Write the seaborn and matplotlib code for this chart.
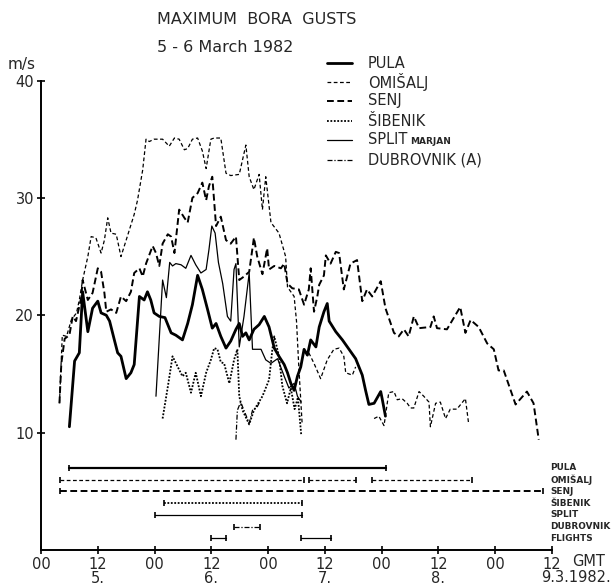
import matplotlib
matplotlib.use("Agg")
import matplotlib.pyplot as plt
import seaborn as sns
from matplotlib.lines import Line2D

sns.set_style("ticks")
plt.rcParams["font.family"] = ["DejaVu Sans"]

# ---- hourly maximum gusts, hours from 00 GMT 5 March 1982, m/s ----
pula_h = [6.0, 7.1, 8.1, 8.8, 9.9, 10.9, 12.0, 12.7, 13.8, 14.5, 15.5, 16.2, 16.9, 18.0, 19.0, 19.7,
          20.8, 21.8, 22.5, 23.2, 23.9, 25.0, 26.2, 27.5, 28.5, 29.9, 31.0, 32.0, 33.1, 34.1, 35.2,
          36.2, 37.0, 38.0, 39.1, 40.1, 41.2, 41.9, 42.6, 43.3, 44.0, 45.0, 46.1, 47.2, 48.2, 49.3,
          50.3, 51.4, 52.1, 52.8, 53.5, 54.2, 54.9, 55.6, 56.3, 57.0, 58.1, 58.8, 59.8, 60.5, 60.9,
          62.3, 63.7, 65.1, 66.5, 67.9, 68.6, 69.3, 70.4, 71.8, 72.1, 72.8]
pula_v = [10.5, 16.1, 16.8, 22.0, 18.6, 20.6, 21.2, 20.2, 20.0, 19.5, 17.9, 16.8, 16.5, 14.6, 15.1, 15.8,
          21.6, 21.3, 22.0, 21.3, 20.2, 19.9, 19.8, 18.5, 18.3, 17.9, 19.3, 20.9, 23.4, 22.2, 20.5,
          18.9, 19.3, 18.2, 17.2, 17.8, 18.8, 19.3, 18.2, 18.5, 17.9, 18.8, 19.2, 19.9, 19.0, 17.2,
          16.5, 15.8, 15.1, 14.2, 13.6, 14.8, 15.6, 17.1, 16.6, 17.9, 17.3, 19.0, 20.3, 21.0, 19.5,
          18.6, 17.9, 17.1, 16.3, 14.9, 13.6, 12.4, 12.5, 13.5, 12.9, 11.4]

omisalj_h1 = [3.9, 4.5, 5.4, 6.4, 7.5, 8.1, 8.8, 9.9, 10.6, 11.6, 12.7, 13.4, 14.1, 14.8, 15.9, 16.9,
              18.0, 19.7, 20.4, 21.5, 22.2, 22.9, 23.9, 25.7, 27.1, 28.2, 29.2, 30.3, 31.0, 32.0, 33.1,
              34.1, 34.9, 35.9, 36.6, 38.0, 39.1, 40.1, 41.9, 43.3, 44.0, 45.0, 46.1, 46.8, 47.5, 48.6,
              50.3, 51.7, 52.1, 53.5, 54.0, 54.5, 55.2]
omisalj_v1 = [12.5, 18.3, 18.2, 19.6, 20.2, 21.3, 23.0, 25.0, 26.7, 26.6, 25.3, 26.4, 28.3, 27.0, 26.9, 25.0,
              26.4, 28.6, 29.8, 32.4, 35.0, 34.8, 35.0, 35.0, 34.4, 35.1, 35.0, 34.1, 34.2, 35.0, 35.1,
              34.0, 32.5, 35.0, 35.1, 35.1, 32.1, 31.9, 32.0, 34.5, 31.8, 30.7, 32.0, 29.0, 31.8, 27.9,
              27.0, 25.0, 22.4, 21.6, 19.5, 15.5, 10.7]
omisalj_h2 = [56.6, 57.7, 59.1, 60.5, 61.9, 63.0, 64.0, 64.4, 65.8, 66.5]
omisalj_v2 = [16.8, 15.9, 14.6, 16.2, 17.1, 17.2, 16.5, 15.1, 14.9, 15.6]
omisalj_h3 = [70.4, 71.4, 72.5, 73.5, 74.6, 75.3, 76.3, 77.4, 78.1, 78.8, 79.9, 80.9, 82.0, 82.3, 83.4,
              84.4, 85.5, 86.5, 87.9, 89.7, 90.4]
omisalj_v3 = [11.2, 11.4, 10.6, 13.4, 13.5, 12.8, 12.9, 12.5, 12.1, 12.1, 13.5, 13.1, 12.6, 10.5, 12.5,
              12.6, 11.2, 12.0, 12.0, 12.9, 10.7]

senj_h = [3.9, 4.3, 5.0, 6.0, 6.7, 7.4, 8.5, 8.8, 9.9, 10.9, 12.0, 12.7, 13.4, 13.8, 14.8, 15.9, 16.9,
          18.0, 19.0, 19.7, 20.8, 21.5, 22.2, 23.6, 24.3, 25.0, 25.7, 26.8, 27.5, 28.2, 29.2, 30.3,
          31.0, 32.0, 33.1, 34.1, 34.9, 35.5, 36.2, 37.0, 38.0, 39.1, 40.1, 41.2, 41.9, 42.9, 44.0,
          45.0, 45.7, 46.8, 47.8, 48.2, 49.3, 50.7, 51.4, 52.1, 53.1, 54.5, 55.6, 56.6, 57.0, 57.7,
          58.4, 58.8, 59.8, 60.2, 61.2, 62.3, 63.0, 64.0, 65.4, 66.8, 67.9, 68.9, 70.0, 71.8, 72.8,
          74.6, 75.6, 76.7, 77.7, 78.8, 79.9, 82.3, 83.0, 83.7, 85.8, 88.6, 89.7, 90.8, 92.5, 94.3,
          95.7, 96.7, 97.8, 100.3, 102.7, 104.1, 105.2]
senj_v = [12.5, 15.9, 18.0, 18.3, 19.9, 19.5, 21.5, 23.0, 21.3, 21.9, 24.0, 23.7, 21.9, 20.3, 20.5, 20.2, 21.6,
          21.2, 22.0, 23.6, 24.0, 23.3, 24.4, 25.9, 25.3, 24.2, 26.1, 26.9, 26.7, 25.3, 29.0, 28.3,
          27.9, 30.0, 30.4, 31.3, 29.8, 31.0, 31.8, 27.6, 28.4, 26.4, 26.1, 26.7, 23.0, 23.3, 23.7,
          26.6, 25.0, 23.5, 25.7, 23.9, 24.2, 24.0, 24.4, 22.7, 22.3, 22.2, 20.9, 22.2, 24.0, 20.3,
          21.6, 22.6, 23.4, 25.1, 24.4, 25.4, 25.3, 22.2, 24.4, 24.7, 21.2, 22.2, 21.6, 22.9, 20.6,
          18.5, 18.2, 18.8, 18.2, 19.9, 18.9, 19.0, 19.9, 18.9, 18.8, 20.7, 18.5, 19.6, 19.0, 17.6,
          17.1, 15.3, 15.3, 12.4, 13.5, 12.5, 9.4]

sibenik_h = [25.7, 26.8, 27.8, 28.9, 29.9, 30.6, 31.7, 32.7, 33.8, 34.9, 35.9, 36.6, 37.3, 38.0, 38.7,
             39.8, 40.8, 41.5, 41.9, 42.6, 44.0, 45.0, 46.8, 48.2, 48.9, 49.3, 50.3, 51.0, 52.0, 52.8,
             53.6, 54.3, 55.0]
sibenik_v = [11.2, 13.9, 16.5, 15.6, 14.8, 15.1, 13.4, 15.1, 13.1, 15.1, 16.2, 17.2, 17.1, 16.0, 15.9,
             14.2, 16.2, 17.1, 13.1, 11.9, 10.7, 11.9, 13.1, 14.5, 17.1, 18.2, 16.5, 14.0, 12.5, 13.8,
             12.0, 13.0, 9.8]

split_h = [24.3, 25.7, 26.5, 27.2, 27.8, 28.5, 29.6, 30.6, 31.7, 32.7, 33.8, 34.9, 35.5, 36.1, 36.8,
           37.5, 38.4, 39.4, 40.1, 40.8, 41.2, 41.9, 42.9, 44.0, 44.7, 46.5, 47.5, 48.6, 50.0, 51.4,
           52.4, 53.5, 54.2, 55.0]
split_v = [13.1, 23.0, 21.5, 24.5, 24.2, 24.4, 24.3, 24.0, 25.1, 24.3, 23.6, 23.9, 25.6, 27.6, 27.0,
           24.5, 22.7, 19.9, 19.5, 23.9, 24.4, 17.3, 19.9, 23.6, 17.1, 17.1, 16.2, 15.9, 16.3, 14.8,
           13.8, 14.2, 13.1, 12.6]

dubrovnik_h = [41.2, 41.5, 42.2, 42.9, 44.0, 44.7, 45.7, 46.2]
dubrovnik_v = [9.4, 11.9, 12.6, 11.9, 10.8, 11.9, 12.2, 12.6]

# ---- data availability periods (hours) ----
station_names = ["PULA", "OMIŠALJ", "SENJ", "ŠIBENIK", "SPLIT", "DUBROVNIK", "FLIGHTS"]
station_rows = [7, 6, 5, 4, 3, 2, 1]
periods = [
    [(6, 73)],
    [(4, 55.6), (56.6, 66.6), (70, 91)],
    [(4, 106)],
    [(26, 55.2)],
    [(24, 55.2)],
    [(40.8, 46.2)],
    [(36, 39), (55, 61.2)],
]

x_ticks = list(range(0, 109, 12))
x_tick_labels = ["00", "12", "00", "12", "00", "12", "00", "12", "00", "12"]
day_positions = [12, 36, 60, 84]
day_labels = ["5.", "6.", "7.", "8."]
y_ticks = [10, 20, 30, 40]

styles = {
    "PULA": dict(linewidth=2.0, linestyle="-"),
    "OMIŠALJ": dict(linewidth=0.9, linestyle=(0, (3, 2))),
    "SENJ": dict(linewidth=1.4, linestyle=(0, (3.5, 1.8))),
    "ŠIBENIK": dict(linewidth=1.3, linestyle=(0, (1, 0.9))),
    "SPLIT": dict(linewidth=0.9, linestyle="-"),
    "DUBROVNIK": dict(linewidth=0.9, linestyle=(0, (4, 1.5, 1, 1.5))),
    "FLIGHTS": dict(linewidth=0.9, linestyle="-"),
}

W, H = 614, 588
fig = plt.figure(figsize=(W / 100, H / 100), dpi=100, facecolor="white")
ax = fig.add_axes([41 / W, 38 / H, 511 / W, 469.5 / H])
ax.set_facecolor("white")


def fx(px):
    return px / W


def fy(py):
    return 1 - py / H


def draw(h, v, name):
    sns.lineplot(x=h, y=v, ax=ax, color="black", estimator=None, sort=False,
                 **styles[name])


draw(pula_h, pula_v, "PULA")
draw(omisalj_h1, omisalj_v1, "OMIŠALJ")
draw(omisalj_h2, omisalj_v2, "OMIŠALJ")
draw(omisalj_h3, omisalj_v3, "OMIŠALJ")
draw(senj_h, senj_v, "SENJ")
draw(sibenik_h, sibenik_v, "ŠIBENIK")
draw(split_h, split_v, "SPLIT")
draw(dubrovnik_h, dubrovnik_v, "DUBROVNIK")

# availability bars with end caps
for name, row, segs in zip(station_names, station_rows, periods):
    st = dict(styles[name])
    if name == "PULA":
        st["linewidth"] = 1.6
    for a, b in segs:
        sns.lineplot(x=[a, b], y=[row, row], ax=ax, color="black", estimator=None,
                     sort=False, **st)
        ax.plot([a, b], [row, row], linestyle="none", marker="|", markersize=5,
                markeredgewidth=1.2, color="black")
    ax.text(107.6, row, name, ha="left", va="center", fontsize=6.4,
            fontweight="bold", clip_on=False)

ax.set_xlim(0, 108)
ax.set_ylim(0, 40)
ax.set_xticks(x_ticks)
ax.set_xticklabels(x_tick_labels, fontsize=10.5)
ax.set_yticks(y_ticks)
ax.set_yticklabels([str(t) for t in y_ticks], fontsize=10.5)
ax.tick_params(axis="both", direction="inout", length=6, width=1.2, pad=2, color="black")
for side in ["top", "right"]:
    ax.spines[side].set_visible(False)
for side in ["left", "bottom"]:
    ax.spines[side].set_linewidth(1.4)
    ax.spines[side].set_color("black")
ax.set_xlabel("")
ax.set_ylabel("")

xt = ax.get_xaxis_transform()
for p, lab in zip(day_positions, day_labels):
    ax.text(p, -0.06, lab, transform=xt, ha="center", va="center", fontsize=10.5)
fig.text(fx(572), fy(561), "GMT", ha="left", va="center", fontsize=10.5)
fig.text(fx(576), fy(578), "9.3.1982.", ha="center", va="center", fontsize=10.5)

fig.text(fx(157), fy(20), "MAXIMUM  BORA  GUSTS", ha="left", va="center", fontsize=11.5)
fig.text(fx(157), fy(48), "5 - 6 March 1982", ha="left", va="center", fontsize=11.5)
fig.text(fx(8), fy(64), "m/s", ha="left", va="center", fontsize=11)

# key
legend_rows = [("PULA", 63), ("OMIŠALJ", 82), ("SENJ", 101), ("ŠIBENIK", 121),
               ("SPLIT", 140), ("DUBROVNIK", 160)]
legend_text = {"DUBROVNIK": "DUBROVNIK (A)"}
for name, py in legend_rows:
    fig.add_artist(Line2D([fx(327), fx(352)], [fy(py), fy(py)], color="black",
                          **styles[name]))
    fig.text(fx(368), fy(py), legend_text.get(name, name), ha="left", va="center",
             fontsize=10.5)
fig.text(fx(410), fy(141), "MARJAN", ha="left", va="center", fontsize=6.5,
         fontweight="bold")

fig.savefig("out.png", dpi=100, facecolor="white")
